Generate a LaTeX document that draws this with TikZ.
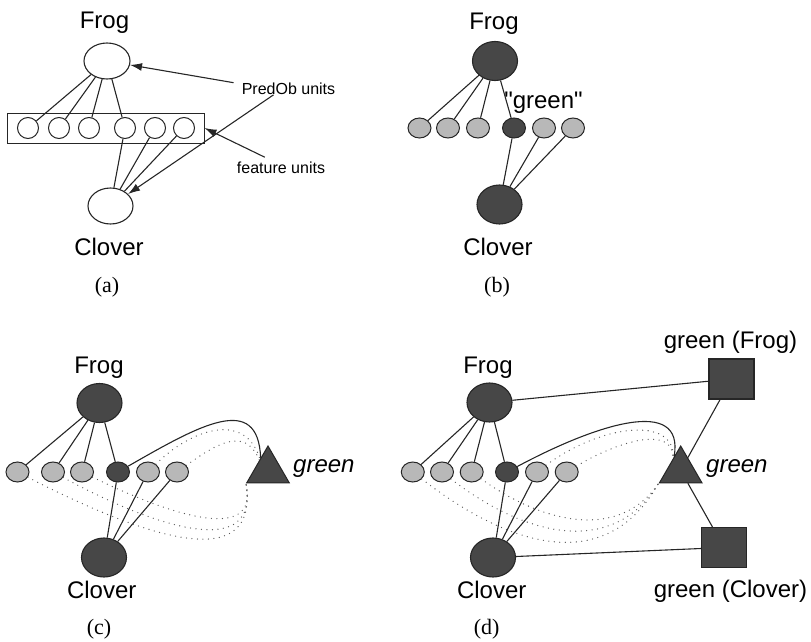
\documentclass[tikz,border=0pt]{standalone}
\usepackage{fontspec}
\setmainfont{Liberation Sans}
\newfontfamily\rawsans{Liberation Sans}
\newfontfamily\capfont{Liberation Serif}
\usetikzlibrary{shapes.geometric,arrows.meta}

\tikzset{
  unit/.style={ellipse,draw=black!85,line width=1pt,fill=black!28,minimum width=23pt,minimum height=20pt,inner sep=0pt},
  unitoff/.style={unit,fill=white,minimum width=21pt,minimum height=21pt},
  uniton/.style={unit,fill=black!72},
  bigunit/.style={ellipse,draw=black!85,line width=1.1pt,fill=black!72,minimum width=45pt,minimum height=39pt,inner sep=0pt},
  concept/.style={regular polygon,regular polygon sides=3,draw=black!85,line width=1pt,fill=black!72,minimum size=49pt,inner sep=0pt},
  pred/.style={rectangle,draw=black!85,line width=1.1pt,fill=black!72,minimum width=45pt,minimum height=40pt,inner sep=0pt},
  link/.style={line width=1.1pt,black!85},
  trace/.style={line width=1.3pt,black!65,dash pattern=on 0pt off 5.5pt,line cap=round},
  wordlbl/.style={font=\fontsize{24}{28}\selectfont,anchor=base,inner sep=0pt},
  note/.style={font=\fontsize{16}{19}\selectfont,anchor=base,inner sep=0pt},
  panel/.style={font=\capfont\fontsize{22}{26}\selectfont,anchor=base,inner sep=0pt},
}

\begin{document}
\begin{tikzpicture}[x=1pt,y=-1pt,>={Latex[length=12pt,width=8pt]}]
	\useasboundingbox (0,0) rectangle (811,642);
	% (a) the plain network
	\node[bigunit,fill=white,minimum width=46pt,minimum height=36pt] (frogA) at (107,61) {};
	\node[bigunit,fill=white,minimum width=45pt,minimum height=36pt] (cloverA) at (110.5,206) {};
	\node[draw=black!85,line width=1pt,minimum width=197pt,minimum height=30pt,inner sep=0pt] (units) at (105.5,128) {};
	\foreach \x [count=\i] in {28,59,89,125,155,184}
	\node[unitoff] (uA\i) at (\x,128) {};
	\foreach \i in {1,...,4}
	\draw[link] (frogA) -- (uA\i);
	\foreach \i in {4,5,6}
	\draw[link] (cloverA) -- (uA\i);
	\node[wordlbl] (frogAlbl) at (104.5,29) {Frog};
	\node[wordlbl] (cloverAlbl) at (109,255) {Clover};
	\node[panel] (capA) at (107,292) {(a)};
	\node[note] (predob) at (288.5,94.5) {PredOb units};
	\node[note] (feat) at (281,173) {feature units};
	\draw[link,->] ([xshift=-8pt]predob.north west) -- (frogA);
	\draw[link,->] ([xshift=-15pt]predob.south) -- (cloverA);
	\draw[link,->] ([xshift=28pt,yshift=4pt]feat.north west) -- (units.east);
	% (b) one feature switched on
	\node[bigunit] (frogB) at (495,61) {};
	\node[bigunit] (cloverB) at (499.5,204.5) {};
	\foreach \x/\s [count=\i] in {419.5/unit,448/unit,478/unit,514/uniton,544/unit,573/unit}
	\node[\s] (uB\i) at (\x,128) {};
	\foreach \i in {1,...,4}
	\draw[link] (frogB) -- (uB\i);
	\foreach \i in {4,5,6}
	\draw[link] (cloverB) -- (uB\i);
	\node[wordlbl] (greenB) at (543.5,108) {\rawsans"green"};
	\node[wordlbl] (frogBlbl) at (494,30) {Frog};
	\node[wordlbl] (cloverBlbl) at (498,255) {Clover};
	\node[panel] (capB) at (497,292) {(b)};
	% (c) the feature tied to a concept
	\node[bigunit] (frogC) at (99.5,403) {};
	\node[bigunit] (cloverC) at (104,557.5) {};
	\foreach \x/\s [count=\i] in {17.5/unit,53/unit,82/unit,118/uniton,148/unit,177/unit}
	\node[\s] (uC\i) at (\x,472) {};
	\node[concept] (triC) at (268,470.5) {};
	\foreach \i in {1,...,4}
	\draw[link] (frogC) -- (uC\i);
	\foreach \i in {4,5,6}
	\draw[link] (cloverC) -- (uC\i);
	\draw[trace] (uC1) .. controls (150,540) and (260,575) .. (triC.corner 2);
	\draw[trace] (uC2) .. controls (160,530) and (260,560) .. (triC.corner 2);
	\draw[trace] (uC3) .. controls (170,515) and (260,545) .. (triC.corner 2);
	\draw[trace] (uC5) .. controls (190,430) and (245,410) .. (triC.125);
	\draw[trace] (uC6) .. controls (215,445) and (245,425) .. (triC.130);
	\draw[link] (uC4) .. controls (200,425) and (258,392) .. (triC.120);
	\node[wordlbl,anchor=base west] (greenC) at (293,472) {\itshape green};
	\node[wordlbl] (frogClbl) at (99,373) {Frog};
	\node[wordlbl] (cloverClbl) at (101.7,598) {Clover};
	\node[panel] (capC) at (99,634) {(c)};
	% (d) the concept bound to both objects
	\node[bigunit] (frogD) at (489.5,402.5) {};
	\node[bigunit] (cloverD) at (493,557.5) {};
	\foreach \x/\s [count=\i] in {412.8/unit,442/unit,471.7/unit,507/uniton,537/unit,566.7/unit}
	\node[\s] (uD\i) at (\x,472) {};
	\node[concept] (triD) at (680.7,470.5) {};
	\node[pred] (sqFrog) at (731.5,379) {};
	\node[pred] (sqClover) at (724,547.5) {};
	\foreach \i in {1,...,4}
	\draw[link] (frogD) -- (uD\i);
	\foreach \i in {4,5,6}
	\draw[link] (cloverD) -- (uD\i);
	\draw[trace] (uD1) .. controls (520,555) and (610,570) .. (triD.corner 2);
	\draw[trace] (uD2) .. controls (530,540) and (615,555) .. (triD.corner 2);
	\draw[trace] (uD3) .. controls (545,525) and (620,540) .. (triD.corner 2);
	\draw[trace] (uD5) .. controls (600,425) and (675,415) .. (triD.120);
	\draw[trace] (uD6) .. controls (620,440) and (675,425) .. (triD.125);
	\draw[link] (uD4) .. controls (595,425) and (685,395) .. (triD.115);
	\draw[link] (frogD) -- (sqFrog);
	\draw[link] (cloverD) -- (sqClover);
	\draw[link] (triD) -- (sqFrog);
	\draw[link] (triD) -- (sqClover);
	\node[wordlbl,anchor=base west] (greenD) at (706,472) {\itshape green};
	\node[wordlbl] (sqFroglbl) at (730.5,348) {green (Frog)};
	\node[wordlbl] (sqCloverlbl) at (730.5,597) {green (Clover)};
	\node[wordlbl] (frogDlbl) at (488,373) {Frog};
	\node[wordlbl] (cloverDlbl) at (491.7,598) {Clover};
	\node[panel] (capD) at (486.7,634) {(d)};
\end{tikzpicture}
\end{document}
